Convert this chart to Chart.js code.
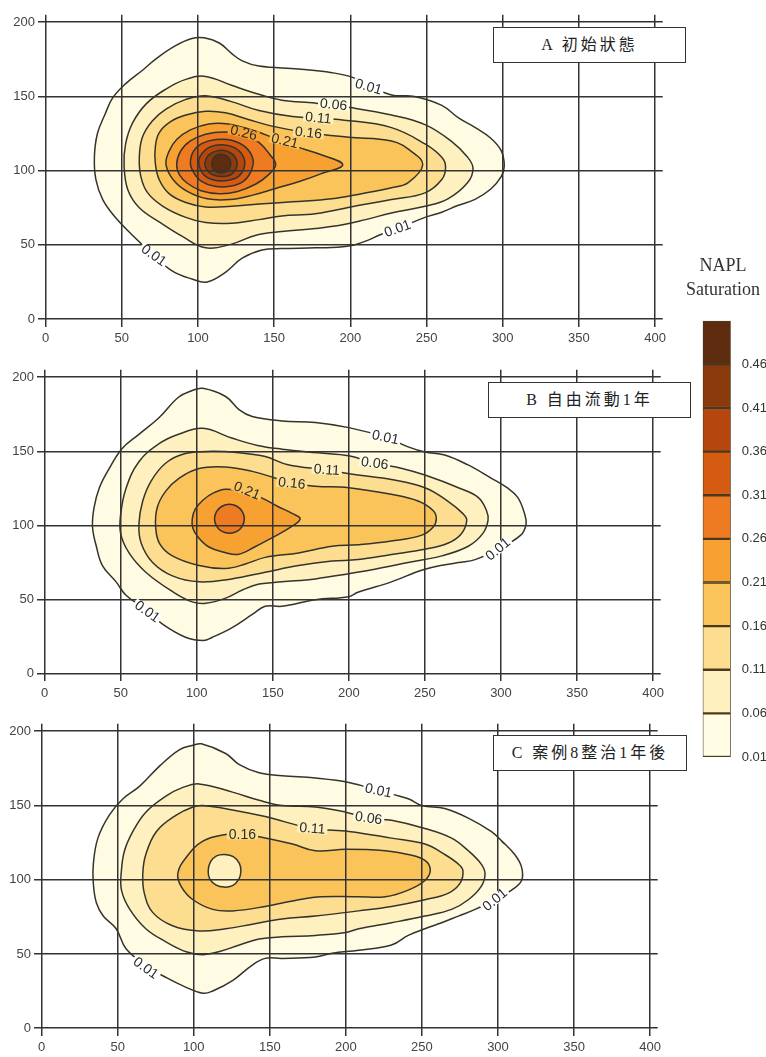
<!DOCTYPE html>
<html>
<head>
<meta charset="utf-8">
<script src="https://cdn.jsdelivr.net/npm/chart.js@4.4.1/dist/chart.umd.min.js"></script>
<style>
  body { margin: 0; background: #fff; width: 766px; height: 1057px; position: relative; overflow: hidden; }
  canvas { position: absolute; }
  .tag { position: absolute; box-sizing: border-box; height: 36px; border: 1px solid #333; background: #fff;
         line-height: 34px; text-align: center; font-size: 16px; letter-spacing: 3px; color: #222;
         font-family: "Liberation Serif", "Noto Sans CJK TC", serif; }
  .cbtitle { position: absolute; left: 668px; top: 253px; width: 110px; text-align: center; color: #333;
             font-family: "Liberation Serif", serif; font-size: 18px; line-height: 24px; }
</style>
</head>
<body>
<canvas id="chartA"></canvas>
<canvas id="chartB"></canvas>
<canvas id="chartC"></canvas>
<canvas id="colorBar"></canvas>
<div class="tag" style="left:493px;top:27px;width:193px">A 初始狀態</div>
<div class="tag" style="left:488px;top:382px;width:203px">B 自由流動1年</div>
<div class="tag" style="left:493px;top:735px;width:194px">C 案例8整治1年後</div>
<div class="cbtitle">NAPL<br>Saturation</div>
<script>
// ---- данные ----
const xTicks = [0, 50, 100, 150, 200, 250, 300, 350, 400];
const yTicks = [0, 50, 100, 150, 200];
const levels = [0.01, 0.06, 0.11, 0.16, 0.21, 0.26, 0.31, 0.36, 0.41, 0.46];

// контуры панели A (x, y)
const a01 = [[32,109],[34,125],[39,138],[44,149],[53,159],[64,168],[72,175],[85,184],[96,189],[104,189.5],[114,186],[122,179],[129,174],[140,170.5],[166,168.5],[188,166],[201,163],[213,157],[227,151],[242,150],[260,144],[271,135.5],[282,129],[292,122],[299,113.5],[301,103],[299,96],[292,87.5],[281.5,80.5],[270.5,76.5],[260,72],[249,68.5],[231,61],[220,57],[210,52.5],[198,49],[177,48],[155,47.5],[142,46.5],[129,41],[118,31.5],[106,25],[96,27],[83,32.5],[71,43],[57,56.5],[45,69.5],[37.5,80.5],[33,94]];
const a06 = [[51.5,103],[52.5,118],[57,132],[66,145],[79,155],[92,161.5],[105,163.5],[122,157.5],[140,151.5],[155,147.5],[177,145.5],[200,142.5],[227,137.5],[249,131],[266,120],[277,109],[280.5,101.5],[277,92],[264,81],[249,76],[227,71.5],[210,67],[195,63.5],[177,61],[155,59],[138,56.5],[122,50.5],[105,48],[90,55.5],[74.5,65.5],[61.5,75],[54,87]];
const a11 = [[61.5,109],[63.5,122.5],[70,133.5],[79,141.5],[92,148],[105,150.5],[122,146.5],[140,140.5],[162,136.5],[196,134],[227,129],[249,118],[260,109],[262.5,102.5],[260,94],[249,85],[227,80.5],[205,76.5],[177,71],[155,69.5],[140,67],[122,64.5],[105,65],[92,68.5],[77,76],[67,85],[62.5,96]];
const a16 = [[72,105],[72,116],[74.5,125.5],[82,133],[92,137.5],[105,140],[118,139],[133,134.5],[148.5,130],[172.5,125.5],[199,122.5],[227,120],[240,113],[247.5,104],[238,92],[227,88.5],[205,84],[188,81],[162,79],[140,77.5],[122,76],[105,75.5],[92,78.5],[81,84.5],[74.5,94]];
const a21 = [[79,104],[81,113],[86,121],[95,127.5],[107,131.5],[120,131.5],[135,127.5],[150,122],[165,116],[180,111],[195,104],[181,98],[166,92.5],[151,88],[136,83.5],[121,80.5],[106,81],[93,86],[84,93.5]];
const a26 = [[86,104],[88.5,113],[95,120],[105,124.5],[117,126],[130,124.5],[140,119],[147,111],[151,104],[146,97],[138,91],[126,86],[114,84.5],[102,86.5],[93,91.5],[88,97]];
const a31 = [[95,105],[97,113],[103,118.5],[112,121],[122,120.5],[131,116],[136,108],[135,100],[130,93],[121,89.5],[111,89.5],[102,93],[97,99]];
const a36 = [[100.5,105],[102.5,111.5],[108,116],[116,117.5],[124,115.5],[129.5,110],[130.5,103],[127,96.5],[120,93.5],[111,93.5],[104,97]];
const a41 = [[104.5,105],[107,110.5],[113,113.5],[119.5,113],[124.5,109],[125.5,103],[122,97.5],[115.5,96],[109,97.5],[105.5,101]];
const a46 = [[109,105],[111,109.5],[115.5,111],[120,109],[121.5,104.5],[119.5,100],[115,98.5],[110.5,100.5]];

// контуры панели B
const b01 = [[31.5,99],[32.5,112],[36,125.5],[42.5,138.5],[51,152],[62,161.5],[75,172.5],[88,186.5],[97,191],[104,192.5],[119,187],[128,178],[136.5,173.5],[156,170.5],[178,169.5],[200,166],[224,159.5],[239,153],[250,149.5],[263,147.5],[278,141],[293.5,132],[304,125.5],[311,119],[315.5,108],[316.5,101],[313,93.5],[298,84],[283,77],[272,75],[250,70.5],[228,62],[206,55],[200,52],[178,50],[156,45.5],[145,45.5],[136.5,40],[123,31],[110,24.5],[104.5,22.5],[93,24.5],[77.5,33.5],[67,43],[53.5,53],[47,62],[38,73],[34,86]];
const b06 = [[50,107.5],[53.5,125],[62,143],[75,155],[88,161.5],[104,165.5],[123,159],[140,154],[156,151.5],[180,149],[200,147],[217,142],[235,138.5],[250,134],[272,125.5],[285,119],[290.5,110],[291.5,103.5],[288,94.5],[278.5,86],[261,79.5],[239,75],[217,70.5],[200,67.5],[178,64],[156,62],[141,60.5],[130,56.5],[119,51],[106,47.5],[97,48.5],[84,55.5],[66.5,68.5],[55.5,81.5],[50,94.5]];
const b11 = [[62,101],[64.5,116.5],[70,130],[79.5,142],[92.5,148.5],[110,150],[128,149],[145,146.5],[160,141],[185,137.5],[206,134],[228,131],[250,125.5],[265,116.5],[275,108],[277.5,103.5],[274,94.5],[265,88],[250,84],[228,80.5],[206,77],[189,76],[167,73],[145,68.5],[123,64],[101.5,62],[84,66],[71,75],[63.5,88]];
const b16 = [[73,99],[74,112],[79.5,123],[88.5,132],[101.5,138.5],[119,139.5],[136.5,136.5],[151.5,132],[162.5,128.5],[178,126.5],[200,125.5],[228,121],[245.5,116.5],[255.5,110],[257.5,104.5],[255.5,99],[248,93.5],[228,89.5],[206,87],[189,86],[167,81.5],[145,78.5],[132,74],[119,71],[101.5,73],[84,79.5],[75.5,88]];
const b21 = [[97,104],[99,111],[104,117],[111,122],[119,124.5],[131,123],[142,119],[153,113],[163,108],[168,104.5],[162,99],[150,92],[138,85.5],[127,80.5],[118,82],[108,85.5],[101,92],[97.5,98]];
const b26 = [[111.7,104.5],[113,109.4],[116.6,113],[121.5,114.3],[126.4,113],[130,109.4],[131.3,104.5],[130,99.6],[126.4,96],[121.5,94.7],[116.6,96],[113,99.6]];

// контуры панели C
const c01 = [[34,110.5],[37,128],[44.5,143.5],[53.5,154.5],[64.5,163],[77.5,176.5],[90.5,187.5],[99.5,190.5],[105,191.5],[121,185],[130,177.5],[143,172],[158,170],[180,168.5],[202,165.5],[221.5,160],[241,154.5],[250,150],[265,148],[280.5,141.5],[295.5,132.5],[302.5,126],[311,117],[315.5,108.5],[315.5,99.5],[309,93],[298,86.5],[285,80],[274,75.5],[263,71],[252,67],[241,62.5],[230,56],[208.5,52.5],[191,50.5],[180,48],[158,47],[147,47],[138.5,42.5],[125.5,32],[112.5,25],[106,23.5],[95,27.5],[82,34],[69,42],[55.5,53.5],[49,67],[40.5,75.5],[36,84.5],[34,97.5]];
const c06 = [[52.5,106.5],[54.5,119.5],[60,132.5],[68.5,145.5],[82,156.5],[92.5,162],[103.5,164.5],[125.5,159],[143,153.5],[158,150],[180,149],[200,145.5],[215,141.5],[230,140],[252,134.5],[269.5,128],[280.5,119.5],[289,110.5],[291.5,104],[289,95.5],[280.5,86.5],[269.5,80],[252,75.5],[230,71],[208.5,67],[200,64.5],[180,62.5],[158,61.5],[143,60],[130,56],[116.5,51.5],[106,49.5],[95,51.5],[82,58],[68.5,67],[58,80],[52.5,93]];
const c11 = [[66.5,104],[68.5,117],[75.5,132.5],[88.5,143.5],[99.5,149],[106,150],[125.5,147],[147,142.5],[178,134.5],[202,132.5],[230,128],[252,124],[265,117],[274,110.5],[277,106],[275,97.5],[267.5,91],[252,86.5],[230,82],[208.5,79],[180,75.5],[158,73.5],[138.5,70],[121,67],[103.5,65.5],[86,69],[73,78],[67.5,91]];
const c16 = [[89.5,104],[95,115],[106,126],[121,130.5],[132,130.5],[143,129],[165,124],[180,119.5],[200,120.5],[226,119.5],[241,117],[252,113],[255.5,106.5],[252,99.5],[241,93],[226,88.5],[208,88.5],[184,88.5],[169,86.5],[147,82],[125.5,79],[112.5,80],[99.5,86.5],[92,95]];
const cHole = [[109.5,106],[111,112],[115,116],[120.5,117],[126,115.5],[130,111],[131,105.5],[129.5,100],[125.5,96],[120,95],[114.5,96.5],[110.5,100.5]];

// [контур, индекс полосы внутри]
const panelA = [[a01,0],[a06,1],[a11,2],[a16,3],[a21,4],[a26,5],[a31,6],[a36,7],[a41,8],[a46,9]];
const panelB = [[b01,0],[b06,1],[b11,2],[b16,3],[b21,4],[b26,5]];
const panelC = [[c01,0],[c06,1],[c11,2],[c16,3],[cHole,1]];

// подписи изолиний: текст, x, y, угол
const labelsA = [['0.01',212,156.5,16],['0.06',189,144.5,6],['0.11',179,135.5,6],['0.16',172.5,125.5,6],['0.21',157,120,14],['0.26',130,125.5,14],['0.01',231,61,-20],['0.01',71,43,35]];
const labelsB = [['0.01',224,159.5,12],['0.06',217,142,8],['0.11',185.5,137.5,4],['0.16',162.5,128.5,6],['0.21',133,123.5,22],['0.01',298,84,-40],['0.01',67.5,42,35]];
const labelsC = [['0.01',221.5,160,12],['0.06',215,141.5,8],['0.11',178,134.5,5],['0.16',132,130.5,0],['0.01',298,86.5,-40],['0.01',68.5,40.5,35]];

// ---- оформление ----
const bandColors = ['#FFFCE3','#FFF1BF','#FDDE91','#FBC45A','#F8A133','#EE7B22','#D55A12','#B4460E','#8A3A0C','#5E2C0E'];
const FONT = '"Liberation Sans", Arial, sans-serif';
const AXIS_W = 34, AXIS_H = 20, PAD_T = 3;

// замыкаем изолинии (гладкая петля)
const closeContours = {
    id: 'closeContours',
    afterDatasetsUpdate(chart) {
        chart.data.datasets.forEach((d, i) => {
            const line = chart.getDatasetMeta(i).dataset;
            line._loop = true;
            line._fullLoop = true;
            line.points = line.points;
        });
    }
};

function labelPlugin(items) {
    return {
        id: 'contourLabels',
        afterDraw(chart) {
            const {ctx, scales: {x, y}} = chart;
            ctx.save();
            ctx.font = '14px ' + FONT;
            ctx.textAlign = 'center';
            ctx.textBaseline = 'middle';
            for (const [txt, vx, vy, ang] of items) {
                const band = levels.indexOf(+txt) - 1;
                ctx.save();
                ctx.translate(x.getPixelForValue(vx), y.getPixelForValue(vy));
                ctx.rotate(ang * Math.PI / 180);
                const w = ctx.measureText(txt).width + 4;
                ctx.fillStyle = band < 0 ? '#fff' : bandColors[band];
                ctx.fillRect(-w / 2, -5, w, 10);
                ctx.fillStyle = '#2b2b2b';
                ctx.fillText(txt, 0, 0.5);
                ctx.restore();
            }
            ctx.restore();
        }
    };
}

function makePanel(id, area, contours, labels) {
    const cv = document.getElementById(id);
    const W = Math.ceil(area.w + AXIS_W + 4), H = Math.ceil(area.h + PAD_T + AXIS_H + 2);
    cv.width = W; cv.height = H;
    cv.style.left = (area.l - AXIS_W) + 'px';
    cv.style.top = (area.t - PAD_T) + 'px';
    const axisCommon = {
        type: 'linear',
        border: {display: false},
        grid: {color: '#333', lineWidth: 1.5, drawTicks: false, z: 1},
        ticks: {color: '#444', font: {size: 13, family: FONT}, autoSkip: false, maxRotation: 0}
    };
    return new Chart(cv, {
        type: 'line',
        data: {
            datasets: contours.map(([pts, band], i) => ({
                data: pts.map(p => ({x: p[0], y: p[1]})),
                fill: 'shape',
                backgroundColor: bandColors[band],
                borderColor: '#34342c',
                borderWidth: 1.5,
                pointRadius: 0,
                tension: 0.4,
                order: contours.length - i
            }))
        },
        options: {
            responsive: false,
            animation: false,
            events: [],
            layout: {padding: {left: 0, top: PAD_T, right: W - AXIS_W - area.w, bottom: H - PAD_T - AXIS_H - area.h}},
            plugins: {legend: {display: false}, tooltip: {enabled: false}},
            scales: {
                x: {...axisCommon, min: -5, max: 405,
                    afterBuildTicks: s => { s.ticks = xTicks.map(v => ({value: v})); },
                    afterFit: s => { s.height = AXIS_H; },
                    ticks: {...axisCommon.ticks, padding: 4}},
                y: {...axisCommon, min: -5, max: 205,
                    afterBuildTicks: s => { s.ticks = yTicks.map(v => ({value: v})); },
                    afterFit: s => { s.width = AXIS_W; },
                    ticks: {...axisCommon.ticks, padding: 3}}
            }
        },
        plugins: [closeContours, labelPlugin(labels)]
    });
}

function makeColorBar() {
    const cv = document.getElementById('colorBar');
    cv.width = 72; cv.height = 462;
    cv.style.left = '702px'; cv.style.top = '310px';
    new Chart(cv, {
        type: 'bar',
        data: {
            labels: [''],
            datasets: levels.map((lo, i) => ({
                data: [[lo, lo + 0.05]],
                backgroundColor: bandColors[i],
                borderColor: '#4b3a1c',
                borderWidth: {top: 1.5, bottom: 1.5, left: 1, right: 1},
                borderSkipped: false,
                grouped: false,
                barPercentage: 1,
                categoryPercentage: 1
            }))
        },
        options: {
            responsive: false,
            animation: false,
            events: [],
            layout: {padding: {left: 0.7, top: 8, right: 7.3, bottom: 15}},
            plugins: {legend: {display: false}, tooltip: {enabled: false}},
            scales: {
                x: {display: false},
                y: {
                    position: 'right', min: 0.01, max: 0.51,
                    afterBuildTicks: s => { s.ticks = levels.map(v => ({value: v})); },
                    afterFit: s => { s.width = 36; },
                    grid: {display: false},
                    border: {display: false},
                    ticks: {callback: v => v.toFixed(2), color: '#333', font: {size: 13, family: FONT}, padding: 3, autoSkip: false}
                }
            }
        }
    });
}

makePanel('chartA', {l: 38.3, t: 7.4, w: 627.3, h: 319.5}, panelA, labelsA);
makePanel('chartB', {l: 37.4, t: 362.4, w: 626.3, h: 319.2}, panelB, labelsB);
makePanel('chartC', {l: 34.1, t: 716.4, w: 626.3, h: 319.6}, panelC, labelsC);
makeColorBar();
</script>
</body>
</html>
